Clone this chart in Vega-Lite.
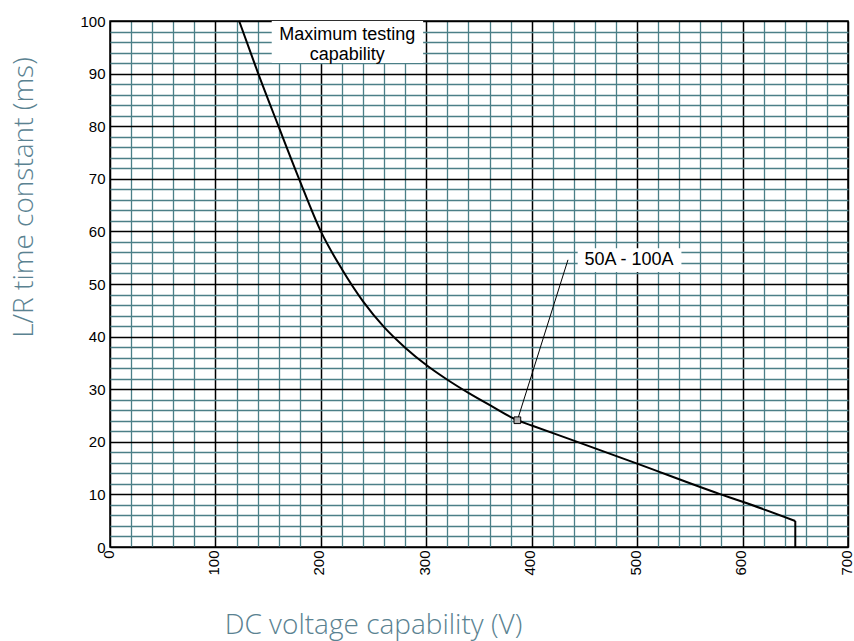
{
  "$schema": "https://vega.github.io/schema/vega-lite/v6.json",
  "width": 738,
  "height": 526,
  "autosize": {"type": "none"},
  "padding": {"left": 110, "top": 21, "right": 6, "bottom": 94},
  "background": "white",
  "config": {
    "view": {"stroke": "#000000", "strokeWidth": 1.5},
    "axis": {
      "labelFont": "Liberation Sans",
      "labelFontSize": 15,
      "labelColor": "#000000",
      "ticks": false,
      "domain": false,
      "labelOverlap": false,
      "labelFlush": false,
      "titleFont": "Open Sans",
      "titleFontWeight": 300,
      "titleFontSize": 28,
      "titleColor": "#5a8291"
    }
  },
  "datasets": {
    "curve": [
      {"x": 122.5, "y": 100},
      {"x": 140.6, "y": 90},
      {"x": 159.8, "y": 80},
      {"x": 179.3, "y": 70},
      {"x": 200, "y": 60},
      {"x": 220, "y": 52.8},
      {"x": 240, "y": 46.7},
      {"x": 260, "y": 41.8},
      {"x": 280, "y": 37.9},
      {"x": 300, "y": 34.6},
      {"x": 320, "y": 31.8},
      {"x": 340, "y": 29.3},
      {"x": 360, "y": 27.0},
      {"x": 386.4, "y": 24.1},
      {"x": 400, "y": 23.1},
      {"x": 436, "y": 20.5},
      {"x": 500, "y": 15.85},
      {"x": 578, "y": 10.1},
      {"x": 600, "y": 8.6},
      {"x": 650, "y": 4.94}
    ],
    "boxes": [
      {"x": 153.4, "x2": 297, "y": 92, "y2": 100},
      {"x": 443.6, "x2": 542, "y": 52.3, "y2": 56.8}
    ],
    "centerText": [
      {"x": 225, "y": 97.3, "label": "Maximum testing"},
      {"x": 225, "y": 93.6, "label": "capability"}
    ],
    "leftText": [
      {"x": 450, "y": 54.6, "label": "50A - 100A"}
    ],
    "drop": [
      {"x": 650, "y": 0, "x2": 650, "y2": 4.94}
    ],
    "leader": [
      {"x": 386.4, "y": 24.1, "x2": 434.4, "y2": 54.6}
    ],
    "marker": [
      {"x": 386.4, "y": 24.1}
    ]
  },
  "encoding": {
    "x": {"field": "x", "type": "quantitative", "scale": {"domain": [0, 700], "nice": false, "zero": false},
      "axis": {
        "values": [0,20,40,60,80,100,120,140,160,180,200,220,240,260,280,300,320,340,360,380,400,420,440,460,480,500,520,540,560,580,600,620,640,660,680,700],
        "labelExpr": "datum.value % 100 === 0 ? datum.label : ''",
        "labelAngle": 270,
        "labelPadding": 3,
        "labelOffset": -2,
        "labelFontSize": 15,
        "grid": true,
        "gridColor": {"condition": {"test": "datum.value % 100 === 0", "value": "#000000"}, "value": "#4b7f87"},
        "gridWidth": {"condition": {"test": "datum.value % 100 === 0", "value": 1.5}, "value": 1.3},
        "title": "DC voltage capability (V)",
        "titleX": 263,
        "titleY": 86,
        "titleAlign": "center",
        "titleBaseline": "alphabetic"
      }
    },
    "y": {"field": "y", "type": "quantitative", "scale": {"domain": [0, 100], "nice": false, "zero": false},
      "axis": {
        "values": [0,2,4,6,8,10,12,14,16,18,20,22,24,26,28,30,32,34,36,38,40,42,44,46,48,50,52,54,56,58,60,62,64,66,68,70,72,74,76,78,80,82,84,86,88,90,92,94,96,98,100],
        "labelExpr": "datum.value % 10 === 0 ? datum.label : ''",
        "labelPadding": 5,
        "labelFontSize": 15,
        "grid": true,
        "gridColor": {"condition": {"test": "datum.value % 10 === 0", "value": "#000000"}, "value": "#4b7f87"},
        "gridWidth": {"condition": {"test": "datum.value % 10 === 0", "value": 1.5}, "value": 1.3},
        "title": "L/R time constant (ms)",
        "titleAngle": 270,
        "titleX": -78,
        "titleY": 176,
        "titleAlign": "center",
        "titleBaseline": "alphabetic"
      }
    }
  },
  "layer": [
    {
      "data": {"name": "boxes"},
      "mark": {"type": "rect", "fill": "white", "strokeWidth": 0},
      "encoding": {
        "x2": {"field": "x2"},
        "y2": {"field": "y2"}
      }
    },
    {
      "data": {"name": "curve"},
      "mark": {"type": "line", "color": "#000000", "strokeWidth": 2, "interpolate": "monotone"},
      "encoding": {}
    },
    {
      "data": {"name": "drop"},
      "mark": {"type": "rule", "color": "#000000", "strokeWidth": 2},
      "encoding": {
        "x2": {"field": "x2"},
        "y2": {"field": "y2"}
      }
    },
    {
      "data": {"name": "leader"},
      "mark": {"type": "rule", "color": "#000000", "strokeWidth": 1},
      "encoding": {
        "x2": {"field": "x2"},
        "y2": {"field": "y2"}
      }
    },
    {
      "data": {"name": "marker"},
      "mark": {"type": "point", "shape": "square", "size": 45, "filled": true, "fill": "#b0b0b0", "stroke": "#000000", "strokeWidth": 1, "opacity": 1},
      "encoding": {}
    },
    {
      "data": {"name": "centerText"},
      "mark": {"type": "text", "font": "Liberation Sans", "fontSize": 18, "color": "#000000", "align": "center", "baseline": "middle"},
      "encoding": {
        "text": {"field": "label"}
      }
    },
    {
      "data": {"name": "leftText"},
      "mark": {"type": "text", "font": "Liberation Sans", "fontSize": 18, "color": "#000000", "align": "left", "baseline": "middle"},
      "encoding": {
        "text": {"field": "label"}
      }
    }
  ]
}
